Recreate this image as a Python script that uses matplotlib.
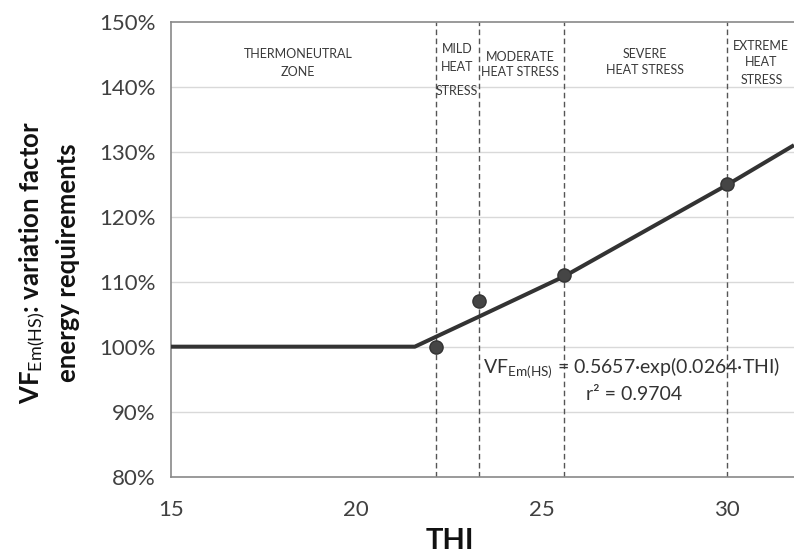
import matplotlib
matplotlib.use("Agg")
import matplotlib.pyplot as plt

# observed points (THI, variation factor %)
thi_obs = [22.15, 23.3, 25.6, 30.0]
vf_obs = [100, 107, 111, 125]

# fitted line (plateau then exponential)
thi_fit = [15.0, 21.58, 23.3, 25.6, 28.0, 30.0, 31.8]
vf_fit = [100.0, 100.0, 104.6, 110.8, 118.5, 124.9, 131.0]

# zone boundaries
zone_bounds = [22.15, 23.3, 25.6, 30.0]

# zone labels: (x centre, [(text, y), ...])
zone_labels = [
    (18.43, [("THERMONEUTRAL", 145.0), ("ZONE", 142.3)]),
    (22.72, [("MILD", 145.8), ("HEAT", 143.1), ("STRESS", 139.4)]),
    (24.41, [("MODERATE", 144.5), ("HEAT STRESS", 142.2)]),
    (27.78, [("SEVERE", 145.0), ("HEAT STRESS", 142.5)]),
    (30.92, [("EXTREME", 146.3), ("HEAT", 143.8), ("STRESS", 141.0)]),
]

yticks = [80, 90, 100, 110, 120, 130, 140, 150]
xticks = [15, 20, 25, 30]

plt.rcParams["font.family"] = ["Lato", "DejaVu Sans"]
plt.rcParams["mathtext.fontset"] = "custom"
plt.rcParams["mathtext.rm"] = "Lato"
plt.rcParams["mathtext.it"] = "Lato:italic"
plt.rcParams["mathtext.bf"] = "Lato:bold"

fig = plt.figure(figsize=(7.94, 5.57), dpi=100)
ax = fig.add_axes([0.215, 0.1442, 0.785, 0.8169])

ax.set_xlim(15, 31.8)
ax.set_ylim(80, 150)

for y in yticks[1:-1]:
    ax.axhline(y, color="#d9d9d9", lw=1.0, zorder=0)
for xb in zone_bounds:
    ax.axvline(xb, color="#555555", lw=1.0, ls=(0, (4, 2.5)), zorder=1)

ax.plot(thi_fit, vf_fit, color="#333333", lw=2.9, zorder=3, solid_capstyle="butt")
ax.plot(thi_obs, vf_obs, "o", color="#454545", mec="#333333", ms=9.5, zorder=4)

for x, lines in zone_labels:
    for txt, y in lines:
        ax.text(x, y, txt, ha="center", va="center", fontsize=9, color="#3a3a3a")

ax.text(23.42, 95.95, r"VF$_{\mathrm{Em(HS)}}$ = 0.5657·exp(0.0264·THI)",
        ha="left", va="baseline", fontsize=14, color="#333333")
ax.text(27.5, 91.8, "r² = 0.9704", ha="center", va="baseline", fontsize=14,
        color="#333333")

ax.set_xticks(xticks)
ax.set_yticks(yticks)
ax.set_yticklabels([f"{v}%" for v in yticks])
ax.tick_params(length=0, labelsize=16, colors="#404040")
ax.tick_params(axis="x", pad=17)
ax.tick_params(axis="y", pad=11)

for side in ["left", "bottom", "top"]:
    ax.spines[side].set_color("#898989")
    ax.spines[side].set_linewidth(1.2)
ax.spines["right"].set_visible(False)

fig.text(0.061, 0.528, "VF$_{\\mathrm{Em(HS)}}$: variation factor\nenergy requirements",
         rotation=90, ha="center", va="center", multialignment="center",
         fontsize=18.5, fontweight="bold", color="#111111", linespacing=1.4)
fig.text(0.566, 0.029, "THI", ha="center", va="center", fontsize=21,
         fontweight="bold", color="#111111")

fig.savefig("out.png", dpi=100)
